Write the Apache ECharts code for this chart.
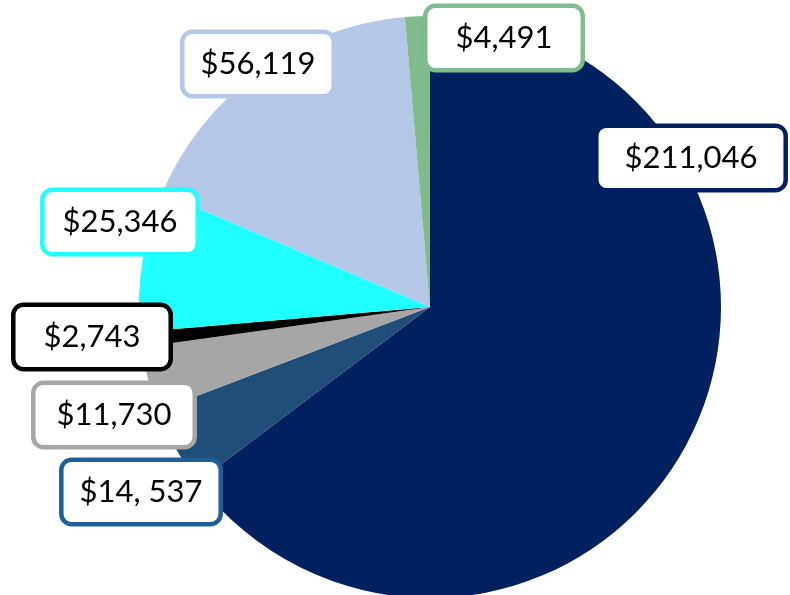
<!DOCTYPE html>
<html>
<head>
<meta charset="utf-8">
<script src="https://cdn.jsdelivr.net/npm/echarts@6/dist/echarts.min.js"></script>
<style>
  html, body { margin: 0; padding: 0; background: #fff; }
  #chart { width: 790px; height: 595px; }
</style>
</head>
<body>
<div id="chart"></div>
<script>
// slices, clockwise from 12 o'clock
var values = [211046, 14537, 11730, 2743, 25346, 56119, 4491]
var labels = ['$211,046', '$14, 537', '$11,730', '$2,743', '$25,346', '$56,119', '$4,491']
var colors = ['#002060', '#1f4e79', '#a6a6a6', '#000000', '#1fffff', '#b4c7e7', '#7fbb8d']
var borders = ['#002060', '#1f5f99', '#a6a6a6', '#000000', '#1fffff', '#b4c7e7', '#7fbb8d']

// label box centres (px) and side padding
var labelPos = [[691, 158], [141, 492], [114, 415], [92, 337], [120, 222], [258, 64], [504, 38]]
var sidePad = [26, 16, 21, 28, 18, 16, 28]

var chart = echarts.init(document.getElementById('chart'))

var data = values.map(function (v, i) {
  return {
    value: v,
    name: labels[i],
    itemStyle: { color: colors[i] },
    label: {
      borderColor: borders[i],
      padding: [16, sidePad[i], 13, sidePad[i]]
    }
  }
})

chart.setOption({
  animation: false,
  series: [{
    type: 'pie',
    center: [430, 307],
    radius: 291,
    startAngle: 90,
    clockwise: true,
    data: data,
    label: {
      show: true,
      position: 'inside',
      formatter: '{b}',
      fontFamily: 'Lato',
      fontSize: 31,
      color: '#000',
      overflow: 'none',
      backgroundColor: '#fff',
      borderWidth: 4.5,
      borderRadius: 8
    },
    labelLine: { show: false },
    labelLayout: function (p) {
      var pos = labelPos[p.dataIndex]
      return { x: pos[0], y: pos[1], align: 'center', verticalAlign: 'middle' }
    },
    emphasis: { disabled: true }
  }]
})
</script>
</body>
</html>
